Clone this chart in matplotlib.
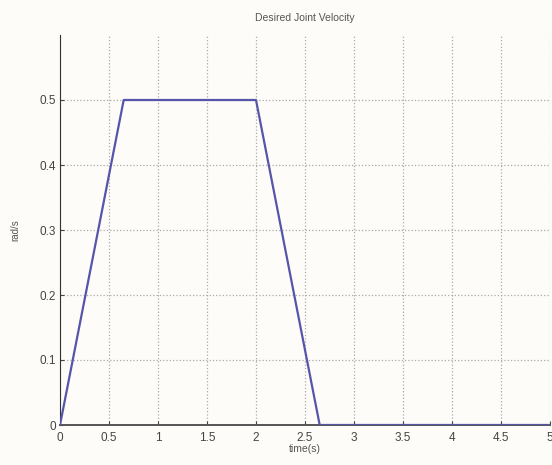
import matplotlib.pyplot as plt

# データ
time_s = [0, 0.65, 2.0, 2.65, 5.0]
vel = [0, 0.5, 0.5, 0, 0]
x_ticks = [0, 0.5, 1, 1.5, 2, 2.5, 3, 3.5, 4, 4.5, 5]
x_labels = ['0', '0.5', '1', '1.5', '2', '2.5', '3', '3.5', '4', '4.5', '5']
y_ticks = [0, 0.1, 0.2, 0.3, 0.4, 0.5]
y_labels = ['0', '0.1', '0.2', '0.3', '0.4', '0.5']

plt.rcParams['font.family'] = ['Liberation Sans', 'DejaVu Sans']

fig = plt.figure(figsize=(5.52, 4.65), dpi=100)
fig.patch.set_facecolor('#fdfcf9')
ax = fig.add_axes([60 / 552, 40 / 465, 490 / 552, 390 / 465])
ax.set_facecolor('none')

ax.plot(time_s, vel, color='#5555aa', linewidth=1.6, zorder=3)

ax.set_xlim(0, 5)
ax.set_ylim(0, 0.6)
ax.set_xticks(x_ticks)
ax.set_xticklabels(x_labels)
ax.set_yticks(y_ticks)
ax.set_yticklabels(y_labels)
ax.tick_params(direction='in', length=3, labelsize=8.5, colors='#444444', pad=3)
ax.tick_params(axis='x', pad=5)

ax.grid(True, linestyle=':', color='#aaaaaa', linewidth=0.9)
ax.spines['top'].set_visible(False)
ax.spines['right'].set_visible(False)
ax.spines['left'].set_color('#333333')
ax.spines['bottom'].set_color('#555555')
ax.spines['bottom'].set_linewidth(1.4)

ax.set_title('Desired Joint Velocity', fontsize=7.5, color='#555555', pad=10)
ax.set_xlabel('time(s)', fontsize=7.5, color='#555555', labelpad=0)
ax.set_ylabel('rad/s', fontsize=7, color='#555555', labelpad=14)

fig.savefig('out.png', dpi=100, facecolor=fig.get_facecolor())
